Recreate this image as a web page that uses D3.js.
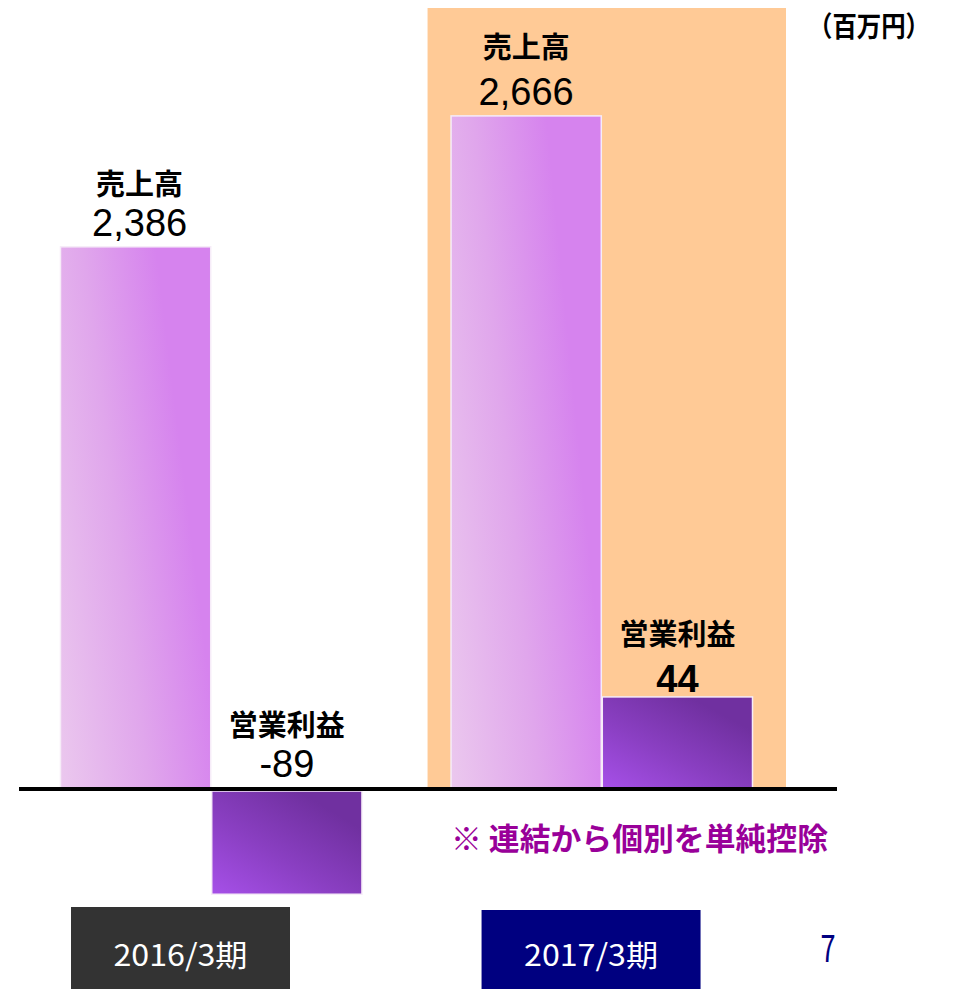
<!DOCTYPE html>
<html>
<head>
<meta charset="utf-8">
<script src="https://cdn.jsdelivr.net/npm/d3@7"></script>
<style>
  body { margin: 0; background: #fff; }
  svg { display: block; }
</style>
</head>
<body>
<div id="chart"></div>
<script>
// data (百万円)
var years = ['2016/3期', '2017/3期'];
var seriesKeys = ['sales', 'op'];
var seriesNames = ['売上高', '営業利益'];
var sales = [2386, 2666];
var opProfit = [-89, 44];
var highlightYear = '2017/3期';
var yearBoxColors = ['#333333', '#000080'];

var width = 955,
    height = 989

var svg = d3.select('#chart').append('svg')
    .attr('width', width)
    .attr('height', height)

var defs = svg.append('defs')

var g1 = defs.append('linearGradient').attr('id', 'gradSales')
    .attr('x1', 0).attr('y1', 1).attr('x2', 0.9).attr('y2', 0.6)
g1.append('stop').attr('offset', 0).attr('stop-color', '#ebc8ee')
g1.append('stop').attr('offset', 0.55).attr('stop-color', '#e0a6ec')
g1.append('stop').attr('offset', 1).attr('stop-color', '#d683ee')

var g2 = defs.append('linearGradient').attr('id', 'gradOp')
    .attr('x1', 0).attr('y1', 1).attr('x2', 0.75).attr('y2', 0.15)
g2.append('stop').attr('offset', 0).attr('stop-color', '#a650e8')
g2.append('stop').attr('offset', 0.5).attr('stop-color', '#8a3fc2')
g2.append('stop').attr('offset', 1).attr('stop-color', '#7030a0')

// broken (piecewise) value axis, like the original slide
var y = d3.scaleLinear()
    .domain([-100, 0, 100, 2300, 2700])
    .range([904, 788, 581, 287, 100])

var x0 = d3.scaleBand()
    .domain(years)
    .range([60, 753])
    .paddingInner(0.2256)

var x1 = d3.scaleBand()
    .domain(seriesKeys)
    .range([0, x0.bandwidth()])

var fmt = function(v) { return d3.format(',')(v).replace('−', '-'); };

var rows = [];
years.forEach(function(yr, i) {
    rows.push({ year: yr, key: 'sales', name: seriesNames[0], value: sales[i] });
    rows.push({ year: yr, key: 'op', name: seriesNames[1], value: opProfit[i] });
});

// highlight behind 2017
svg.append('rect')
    .attr('x', x0(highlightYear) - 23)
    .attr('y', 8)
    .attr('width', x0.bandwidth() + 56)
    .attr('height', y(0) + 3 - 8)
    .attr('fill', '#ffca96')

var bars = svg.append('g').selectAll('rect')
    .data(rows)
  .enter().append('rect')
    .attr('x', function(d) { return x0(d.year) + x1(d.key) + 0.5; })
    .attr('y', function(d) { return d.value >= 0 ? y(d.value) : y(0) + 3; })
    .attr('width', x1.bandwidth() - 1)
    .attr('height', function(d) { return Math.abs(y(d.value) - y(0)); })
    .attr('fill', function(d) { return d.key == 'sales' ? 'url(#gradSales)' : 'url(#gradOp)'; })
    .attr('stroke', '#f6ecf8')
    .attr('stroke-width', 1.5)

// baseline
svg.append('rect')
    .attr('x', 19)
    .attr('y', y(0) - 1)
    .attr('width', 818)
    .attr('height', 4)
    .attr('fill', '#000')

// labels
var labels = svg.append('g').selectAll('g')
    .data(rows)
  .enter().append('g')
    .attr('transform', function(d, i) {
        var cx = x0(d.year) + x1(d.key) + x1.bandwidth() / 2 + (i == 0 ? 4 : 0);
        var top = d.value >= 0 ? y(d.value) : y(0);
        return 'translate(' + cx + ',' + top + ')';
    })

labels.append('text')
    .attr('text-anchor', 'middle')
    .attr('y', function(d) { return d.key == 'sales' && d.value > 2500 ? -58 : -52; })
    .attr('font-family', '"Noto Sans CJK JP", sans-serif')
    .attr('font-weight', 'bold')
    .attr('font-size', 29)
    .attr('fill', '#000')
    .text(function(d) { return d.name; })

labels.append('text')
    .attr('text-anchor', 'middle')
    .attr('y', function(d) { return d.key == 'op' && d.value >= 0 ? -5 : -11; })
    .attr('font-family', '"Liberation Sans", Arial, sans-serif')
    .attr('font-weight', function(d) { return d.key == 'op' && d.value >= 0 ? 'bold' : 'normal'; })
    .attr('font-size', 38)
    .attr('fill', '#000')
    .text(function(d) { return fmt(d.value); })

// unit
svg.append('text')
    .attr('x', 869)
    .attr('y', 37)
    .attr('text-anchor', 'middle')
    .attr('font-family', '"Noto Sans CJK JP", sans-serif')
    .attr('font-weight', 'bold')
    .attr('font-size', 28)
    .attr('textLength', 122)
    .attr('lengthAdjust', 'spacingAndGlyphs')
    .text('（百万円）')

// note
svg.append('text')
    .attr('x', 451)
    .attr('y', 850)
    .attr('font-family', '"Noto Sans CJK JP", sans-serif')
    .attr('font-weight', 'bold')
    .attr('font-size', 31)
    .attr('fill', '#990099')
    .attr('textLength', 377)
    .attr('lengthAdjust', 'spacingAndGlyphs')
    .text('※ 連結から個別を単純控除')

// year boxes (centred slightly left of each group)
var boxShift = [11, 31];
var boxes = svg.append('g').selectAll('g')
    .data(years)
  .enter().append('g')

boxes.append('rect')
    .attr('x', function(d, i) { return x0(d) + boxShift[i]; })
    .attr('y', function(d, i) { return i == 0 ? 907 : 910; })
    .attr('width', 219)
    .attr('height', function(d, i) { return i == 0 ? 82 : 79; })
    .attr('fill', function(d, i) { return yearBoxColors[i]; })

boxes.append('text')
    .attr('x', function(d, i) { return x0(d) + boxShift[i] + 109.5; })
    .attr('y', 966)
    .attr('text-anchor', 'middle')
    .attr('font-family', '"Noto Sans CJK JP", sans-serif')
    .attr('font-size', 30)
    .attr('fill', '#fff')
    .attr('textLength', 134)
    .attr('lengthAdjust', 'spacingAndGlyphs')
    .text(function(d) { return d; })

// page number
svg.append('text')
    .attr('x', 828)
    .attr('y', 962)
    .attr('text-anchor', 'middle')
    .attr('font-family', '"Noto Sans CJK JP", sans-serif')
    .attr('font-size', 38)
    .attr('fill', '#000080')
    .attr('textLength', 15)
    .attr('lengthAdjust', 'spacingAndGlyphs')
    .text('7')
</script>
</body>
</html>
